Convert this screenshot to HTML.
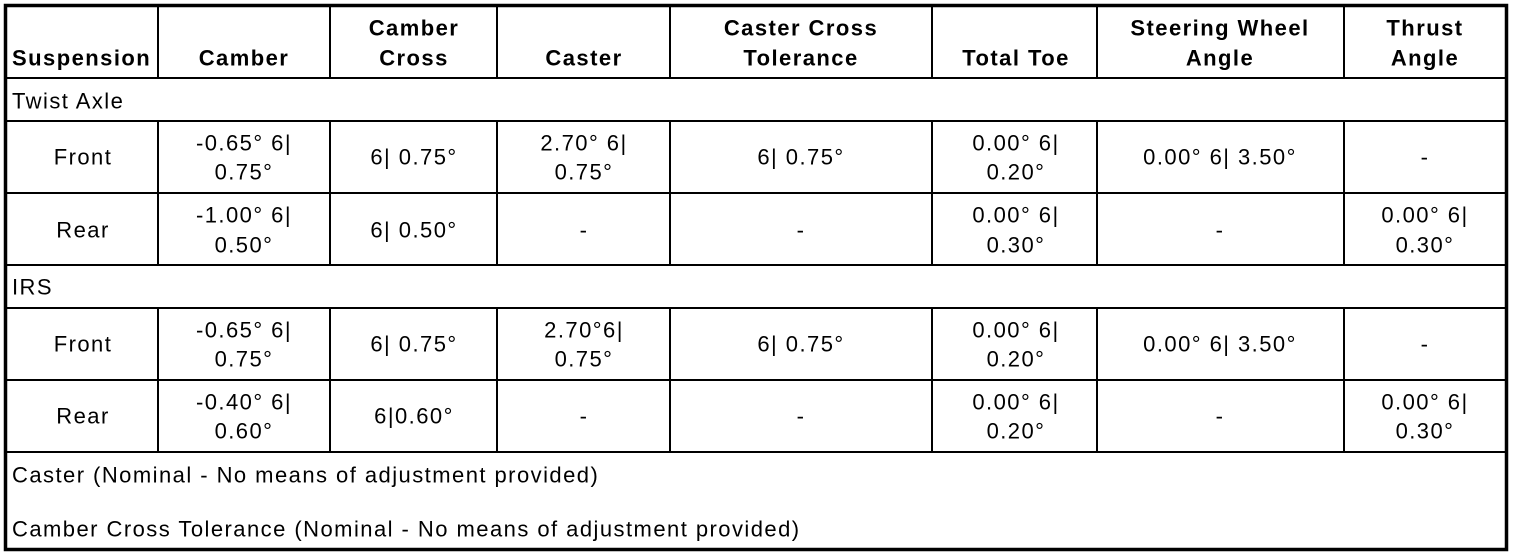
<!DOCTYPE html>
<html><head><meta charset="utf-8"><style>
html,body{margin:0;padding:0;background:#fff;}
svg{display:block;}
text{font-family:"Liberation Sans",Arial,sans-serif;font-size:22px;letter-spacing:1.45px;fill:#000;dominant-baseline:central;}
.h{font-weight:bold;font-size:23px;letter-spacing:1.9px;}
.c{text-anchor:middle;}
</style></head><body>
<svg width="1520" height="558" viewBox="0 0 1520 558">
<g stroke="#000" stroke-width="2" fill="none">
<line x1="6" y1="78" x2="1506" y2="78"/>
<line x1="6" y1="121" x2="1506" y2="121"/>
<line x1="6" y1="193" x2="1506" y2="193"/>
<line x1="6" y1="265" x2="1506" y2="265"/>
<line x1="6" y1="308" x2="1506" y2="308"/>
<line x1="6" y1="380" x2="1506" y2="380"/>
<line x1="6" y1="452" x2="1506" y2="452"/>
<g>
<line x1="158" y1="6" x2="158" y2="78"/><line x1="158" y1="121" x2="158" y2="265"/><line x1="158" y1="308" x2="158" y2="452"/>
<line x1="330" y1="6" x2="330" y2="78"/><line x1="330" y1="121" x2="330" y2="265"/><line x1="330" y1="308" x2="330" y2="452"/>
<line x1="497" y1="6" x2="497" y2="78"/><line x1="497" y1="121" x2="497" y2="265"/><line x1="497" y1="308" x2="497" y2="452"/>
<line x1="670" y1="6" x2="670" y2="78"/><line x1="670" y1="121" x2="670" y2="265"/><line x1="670" y1="308" x2="670" y2="452"/>
<line x1="932" y1="6" x2="932" y2="78"/><line x1="932" y1="121" x2="932" y2="265"/><line x1="932" y1="308" x2="932" y2="452"/>
<line x1="1097" y1="6" x2="1097" y2="78"/><line x1="1097" y1="121" x2="1097" y2="265"/><line x1="1097" y1="308" x2="1097" y2="452"/>
<line x1="1344" y1="6" x2="1344" y2="78"/><line x1="1344" y1="121" x2="1344" y2="265"/><line x1="1344" y1="308" x2="1344" y2="452"/>
</g>
<rect x="5.5" y="5.5" width="1501" height="544" stroke-width="3.5"/>
</g>
<g class="h">
<text x="12" y="58">Suspension</text>
<text class="c" x="244" y="58">Camber</text>
<text class="c" x="414" y="28">Camber</text><text class="c" x="414" y="58">Cross</text>
<text class="c" x="584" y="58">Caster</text>
<text class="c" x="801" y="28">Caster Cross</text><text class="c" x="801" y="58">Tolerance</text>
<text class="c" x="1016" y="58">Total Toe</text>
<text class="c" x="1220" y="28">Steering Wheel</text><text class="c" x="1220" y="58">Angle</text>
<text class="c" x="1425" y="28">Thrust</text><text class="c" x="1425" y="58">Angle</text>
</g>
<text x="12" y="101">Twist Axle</text>
<text class="c" x="83" y="157">Front</text>
<text class="c" x="244" y="143">-0.65° 6|</text><text class="c" x="244" y="172">0.75°</text>
<text class="c" x="414" y="157">6| 0.75°</text>
<text class="c" x="584" y="143">2.70° 6|</text><text class="c" x="584" y="172">0.75°</text>
<text class="c" x="801" y="157">6| 0.75°</text>
<text class="c" x="1016" y="143">0.00° 6|</text><text class="c" x="1016" y="172">0.20°</text>
<text class="c" x="1220" y="157">0.00° 6| 3.50°</text>
<text class="c" x="1425" y="157">-</text>
<text class="c" x="83" y="230">Rear</text>
<text class="c" x="244" y="215">-1.00° 6|</text><text class="c" x="244" y="245">0.50°</text>
<text class="c" x="414" y="230">6| 0.50°</text>
<text class="c" x="584" y="230">-</text>
<text class="c" x="801" y="230">-</text>
<text class="c" x="1016" y="215">0.00° 6|</text><text class="c" x="1016" y="245">0.30°</text>
<text class="c" x="1220" y="230">-</text>
<text class="c" x="1425" y="215">0.00° 6|</text><text class="c" x="1425" y="245">0.30°</text>
<text x="12" y="287">IRS</text>
<text class="c" x="83" y="344">Front</text>
<text class="c" x="244" y="330">-0.65° 6|</text><text class="c" x="244" y="359">0.75°</text>
<text class="c" x="414" y="344">6| 0.75°</text>
<text class="c" x="584" y="330">2.70°6|</text><text class="c" x="584" y="359">0.75°</text>
<text class="c" x="801" y="344">6| 0.75°</text>
<text class="c" x="1016" y="330">0.00° 6|</text><text class="c" x="1016" y="359">0.20°</text>
<text class="c" x="1220" y="344">0.00° 6| 3.50°</text>
<text class="c" x="1425" y="344">-</text>
<text class="c" x="83" y="416">Rear</text>
<text class="c" x="244" y="402">-0.40° 6|</text><text class="c" x="244" y="431">0.60°</text>
<text class="c" x="414" y="416">6|0.60°</text>
<text class="c" x="584" y="416">-</text>
<text class="c" x="801" y="416">-</text>
<text class="c" x="1016" y="402">0.00° 6|</text><text class="c" x="1016" y="431">0.20°</text>
<text class="c" x="1220" y="416">-</text>
<text class="c" x="1425" y="402">0.00° 6|</text><text class="c" x="1425" y="431">0.30°</text>
<text x="12" y="475">Caster (Nominal - No means of adjustment provided)</text>
<text x="12" y="529">Camber Cross Tolerance (Nominal - No means of adjustment provided)</text>
</svg>
</body></html>
